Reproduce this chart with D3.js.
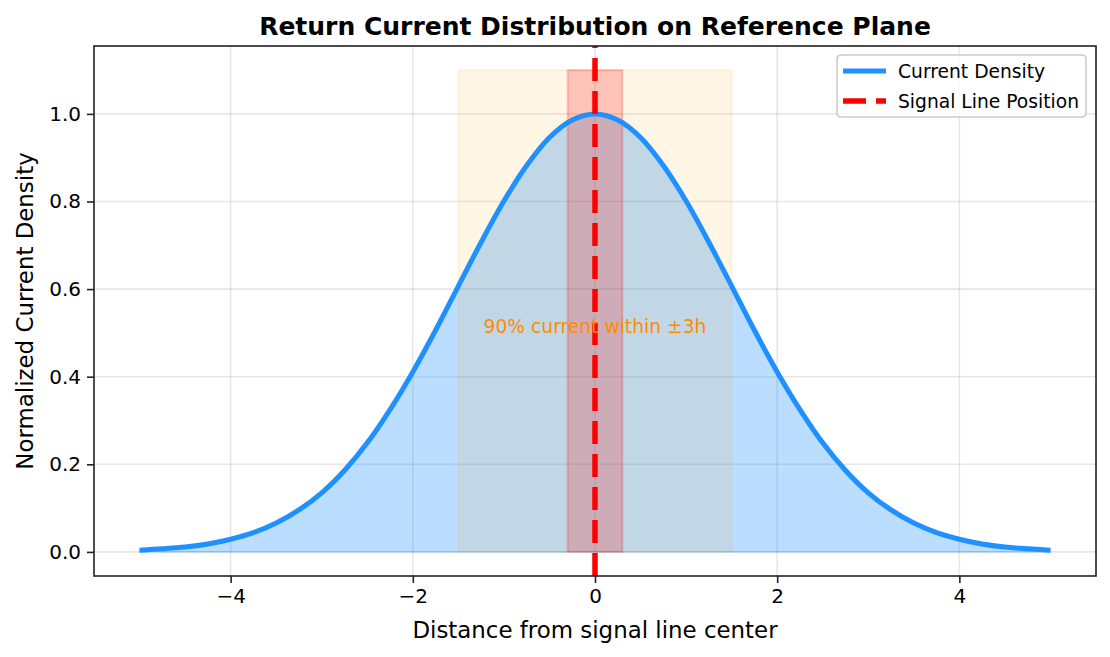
<!DOCTYPE html>
<html>
<head>
<meta charset="utf-8">
<script src="https://cdn.jsdelivr.net/npm/d3@7"></script>
<style>
  body { margin: 0; background: #fff; }
  svg { display: block; font-family: "DejaVu Sans", sans-serif; }
</style>
</head>
<body>
<script>
const w = 1110;
const h = 657;

// values
const distance = [-5, -4.75, -4.5, -4.25, -4, -3.75, -3.5, -3.25, -3, -2.75, -2.5, -2.25, -2, -1.75, -1.5, -1.25, -1, -0.75, -0.5, -0.25,
  0, 0.25, 0.5, 0.75, 1, 1.25, 1.5, 1.75, 2, 2.25, 2.5, 2.75, 3, 3.25, 3.5, 3.75, 4, 4.25, 4.5, 4.75, 5];
const density = [0.004, 0.007, 0.011, 0.018, 0.029, 0.044, 0.066, 0.096, 0.135, 0.186, 0.249, 0.325, 0.411, 0.506, 0.607, 0.707, 0.801, 0.882, 0.946, 0.986,
  1.0, 0.986, 0.946, 0.882, 0.801, 0.707, 0.607, 0.506, 0.411, 0.325, 0.249, 0.186, 0.135, 0.096, 0.066, 0.044, 0.029, 0.018, 0.011, 0.007, 0.004];
const wideSpan = [-1.5, 1.5];   // ±3h band
const narrowSpan = [-0.3, 0.3]; // signal trace width
const spanTop = 1.1;
const signalX = 0;
const xTicks = [-4, -2, 0, 2, 4];
const yTicks = [0, 0.2, 0.4, 0.6, 0.8, 1.0];
const legendLabels = ['Current Density', 'Signal Line Position'];
const note = '90% current within ±3h';
const noteAt = [0, 0.5];

const points = distance.map((d, i) => [d, density[i]]);

const margin = {left: 94, right: 1096, top: 46, bottom: 576};

const x = d3.scaleLinear().domain([-5.5, 5.5]).range([margin.left, margin.right]);
const y = d3.scaleLinear().domain([-0.055, 1.155]).range([margin.bottom, margin.top]); // flipped

const svg = d3.select('body').append('svg')
  .attr('width', w)
  .attr('height', h)
  .attr('viewBox', [0, 0, w, h]);

svg.append('defs').append('clipPath').attr('id', 'plot')
  .append('rect')
    .attr('x', margin.left).attr('y', margin.top)
    .attr('width', margin.right - margin.left)
    .attr('height', margin.bottom - margin.top);

// grid
const grid = svg.append('g').attr('class', 'grid');
grid.selectAll('line.gx')
  .data(xTicks)
  .enter().append('line')
    .attr('x1', d => x(d)).attr('x2', d => x(d))
    .attr('y1', margin.top).attr('y2', margin.bottom);
grid.selectAll('line.gy')
  .data(yTicks)
  .enter().append('line')
    .attr('y1', d => y(d)).attr('y2', d => y(d))
    .attr('x1', margin.left).attr('x2', margin.right);
grid.selectAll('line')
  .attr('stroke', '#b0b0b0')
  .attr('stroke-opacity', 0.3)
  .attr('stroke-width', 1.6);

const plot = svg.append('g').attr('clip-path', 'url(#plot)');

// filled area under the curve
plot.append('path')
  .datum(points)
  .attr('d', d3.area().x(d => x(d[0])).y0(y(0)).y1(d => y(d[1])).curve(d3.curveCatmullRom))
  .attr('fill', '#1e90ff')
  .attr('fill-opacity', 0.3)
  .attr('stroke', '#1e90ff')
  .attr('stroke-opacity', 0.3)
  .attr('stroke-width', 1.5);

// spans
plot.append('rect')
  .attr('x', x(wideSpan[0])).attr('width', x(wideSpan[1]) - x(wideSpan[0]))
  .attr('y', y(spanTop)).attr('height', y(0) - y(spanTop))
  .attr('fill', 'orange').attr('fill-opacity', 0.1)
  .attr('stroke', 'orange').attr('stroke-opacity', 0.1).attr('stroke-width', 2);

plot.append('rect')
  .attr('x', x(narrowSpan[0])).attr('width', x(narrowSpan[1]) - x(narrowSpan[0]))
  .attr('y', y(spanTop)).attr('height', y(0) - y(spanTop))
  .attr('fill', 'red').attr('fill-opacity', 0.2)
  .attr('stroke', 'red').attr('stroke-opacity', 0.2).attr('stroke-width', 2);

// curve
plot.append('path')
  .datum(points)
  .attr('d', d3.line().x(d => x(d[0])).y(d => y(d[1])).curve(d3.curveCatmullRom))
  .attr('fill', 'none')
  .attr('stroke', '#1e90ff')
  .attr('stroke-width', 5)
  .attr('stroke-linejoin', 'round');

// note
svg.append('text')
  .attr('x', x(noteAt[0]))
  .attr('y', y(noteAt[1]))
  .attr('dy', -6)
  .attr('text-anchor', 'middle')
  .attr('dominant-baseline', 'central')
  .attr('fill', 'darkorange')
  .style('font-size', '18.7px')
  .text(note);

// signal line, drawn bottom to top so the dash starts at the axis
plot.append('line')
  .attr('x1', x(signalX)).attr('x2', x(signalX))
  .attr('y1', margin.bottom).attr('y2', margin.top)
  .attr('stroke', 'red')
  .attr('stroke-width', 5.5)
  .attr('stroke-dasharray', '23 10');

// axes
const xAxis = svg.append('g')
  .attr('transform', `translate(0,${margin.bottom})`)
  .call(d3.axisBottom(x).tickValues(xTicks).tickSize(7).tickPadding(6)
    .tickFormat(d => d3.format('d')(d).replace('-', '\u2212')));
const yAxis = svg.append('g')
  .attr('transform', `translate(${margin.left},0)`)
  .call(d3.axisLeft(y).tickValues(yTicks).tickSize(7).tickPadding(6)
    .tickFormat(d3.format('.1f')));
[xAxis, yAxis].forEach(a => {
  a.select('.domain').remove();
  a.selectAll('line').attr('stroke', '#222').attr('stroke-width', 1.6);
  a.selectAll('text').attr('fill', '#000').style('font-size', '20px').style('font-family', '"DejaVu Sans", sans-serif');
});

svg.append('rect')
  .attr('x', margin.left).attr('y', margin.top)
  .attr('width', margin.right - margin.left)
  .attr('height', margin.bottom - margin.top)
  .attr('fill', 'none')
  .attr('stroke', '#222')
  .attr('stroke-width', 1.6);

// labels
svg.append('text')
  .attr('x', (margin.left + margin.right) / 2)
  .attr('y', 35)
  .attr('text-anchor', 'middle')
  .style('font-size', '25px')
  .style('font-weight', 'bold')
  .text('Return Current Distribution on Reference Plane');

svg.append('text')
  .attr('x', (margin.left + margin.right) / 2)
  .attr('y', 638)
  .attr('text-anchor', 'middle')
  .style('font-size', '22.9px')
  .text('Distance from signal line center');

svg.append('text')
  .attr('transform', `translate(33,${(margin.top + margin.bottom) / 2}) rotate(-90)`)
  .attr('text-anchor', 'middle')
  .style('font-size', '22.9px')
  .text('Normalized Current Density');

// legend
const legend = svg.append('g').attr('transform', 'translate(837,55)');
legend.append('rect')
  .attr('width', 249).attr('height', 62)
  .attr('rx', 4)
  .attr('fill', '#fff').attr('fill-opacity', 0.8)
  .attr('stroke', '#ccc').attr('stroke-width', 1.6);

const items = legend.selectAll('g.item')
  .data(legendLabels)
  .enter().append('g')
    .attr('transform', (d, i) => `translate(0,${16 + i * 30})`);
items.append('line')
  .attr('x1', 6).attr('x2', 49)
  .attr('stroke', (d, i) => i === 0 ? '#1e90ff' : 'red')
  .attr('stroke-width', (d, i) => i === 0 ? 5 : 5.5)
  .attr('stroke-dasharray', (d, i) => i === 0 ? null : '23 10');
items.append('text')
  .attr('x', 61)
  .attr('dy', '0.35em')
  .style('font-size', '18.7px')
  .text(d => d);
</script>
</body>
</html>
